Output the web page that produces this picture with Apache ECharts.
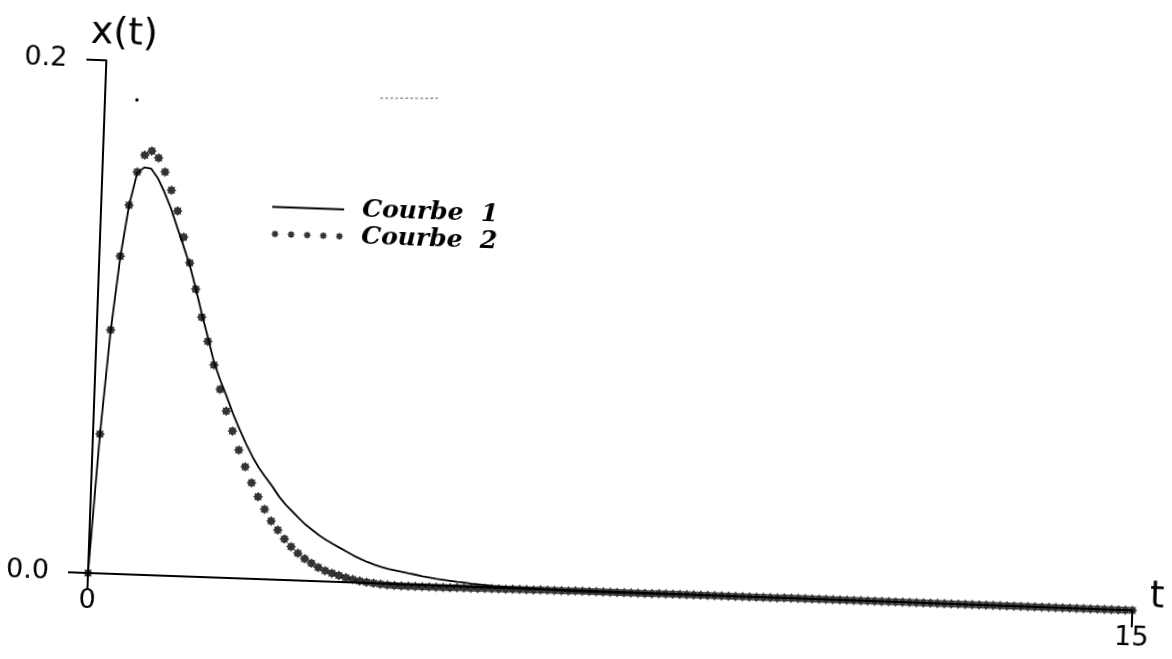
<!DOCTYPE html>
<html>
<head>
<meta charset="utf-8">
<script src="https://cdn.jsdelivr.net/npm/echarts@6/dist/echarts.min.js"></script>
<style>
  html, body { margin: 0; padding: 0; background: #ffffff; overflow: hidden; width: 1172px; height: 659px; }
  #chart { position: absolute; left: 0; top: 0; width: 1172px; height: 659px;
           transform-origin: 88px 573px; transform: rotate(2.05deg); }
</style>
</head>
<body>
<div id="chart"></div>
<script>
// ---- data ----
const seriesNames = ['Courbe 1', 'Courbe 2'];
const xTickLabels = ['0', '15'];
const yTickLabels = ['0.0', '0.2'];

// Courbe 1 (solid line): sample times and values
const solidT = [
  0, 0.1, 0.2, 0.3, 0.4, 0.5, 0.6, 0.7, 0.8, 0.9,
  1.0, 1.1, 1.2, 1.3, 1.4, 1.5, 1.6, 1.7, 1.8, 1.9,
  2.0, 2.1, 2.2, 2.3, 2.4, 2.5, 2.6, 2.7, 2.8, 2.9,
  3.0, 3.1, 3.2, 3.3, 3.4, 3.5, 3.6, 3.7, 3.8, 3.9,
  4.0, 4.1, 4.2, 4.3, 4.4, 4.5, 4.6, 4.7, 4.8, 4.9,
  5.0, 5.1, 5.2, 5.3, 5.4, 5.5, 5.6, 5.7, 5.8, 5.9,
  6.0, 6.5, 7, 8, 9, 10, 11, 12, 13, 14, 15
];
const solidX = [
  0, 0.0540, 0.0945, 0.1232, 0.1437, 0.1565, 0.1588, 0.1584, 0.1548, 0.1495,
  0.1434, 0.1361, 0.1289, 0.1215, 0.1124, 0.1025, 0.0934, 0.0838, 0.0769, 0.0706,
  0.0640, 0.0581, 0.0526, 0.0476, 0.0433, 0.0397, 0.0363, 0.0325, 0.0294, 0.0268,
  0.0242, 0.0218, 0.0198, 0.0178, 0.0162, 0.0147, 0.0133, 0.0119, 0.0105, 0.0093,
  0.0082, 0.0073, 0.0065, 0.0058, 0.0053, 0.0048, 0.0043, 0.0039, 0.0034, 0.0030,
  0.0026, 0.0023, 0.0020, 0.0017, 0.0015, 0.0012, 0.0010, 0.0008, 0.0006, 0.0005,
  0.0004, 0.0001, -0.0003, -0.0002, -0.0001, 0, 0, 0, 0, 0, 0
];

// Courbe 2 (stars): sample times and values
const starT = [
  0, 0.1, 0.2, 0.3, 0.4, 0.5, 0.6, 0.7, 0.8, 0.9,
  1.0, 1.1, 1.2, 1.3, 1.4, 1.5, 1.6, 1.7, 1.8, 1.9,
  2.0, 2.1, 2.2, 2.3, 2.4, 2.5, 2.6, 2.7, 2.8, 2.9,
  3.0, 3.1, 3.2, 3.3, 3.4, 3.5, 3.6, 3.7, 3.8, 3.9,
  4.0, 4.1, 4.2, 4.3, 4.4, 4.5, 4.6, 4.7, 4.8, 4.9,
  5.0, 5.1, 5.2, 5.3, 5.4, 5.5, 5.6, 5.7, 5.8, 5.9,
  6.0, 6.1, 6.2, 6.3, 6.4, 6.5, 6.6, 6.7, 6.8, 6.9,
  7.0, 7.1, 7.2, 7.3, 7.4, 7.5, 7.6, 7.7, 7.8, 7.9,
  8.0, 8.1, 8.2, 8.3, 8.4, 8.5, 8.6, 8.7, 8.8, 8.9,
  9.0, 9.1, 9.2, 9.3, 9.4, 9.5, 9.6, 9.7, 9.8, 9.9,
  10.0, 10.1, 10.2, 10.3, 10.4, 10.5, 10.6, 10.7, 10.8, 10.9,
  11.0, 11.1, 11.2, 11.3, 11.4, 11.5, 11.6, 11.7, 11.8, 11.9,
  12.0, 12.1, 12.2, 12.3, 12.4, 12.5, 12.6, 12.7, 12.8, 12.9,
  13.0, 13.1, 13.2, 13.3, 13.4, 13.5, 13.6, 13.7, 13.8, 13.9,
  14.0, 14.1, 14.2, 14.3, 14.4, 14.5, 14.6, 14.7, 14.8, 14.9,
  15.0
];
const starX = [
  0, 0.0543, 0.0950, 0.1239, 0.1439, 0.1569, 0.1636, 0.1653, 0.1627, 0.1573,
  0.1503, 0.1423, 0.1322, 0.1222, 0.1121, 0.1013, 0.0919, 0.0828, 0.0734, 0.0650,
  0.0573, 0.0500, 0.0436, 0.0374, 0.0321, 0.0273, 0.0228, 0.0194, 0.0160, 0.0131,
  0.0106, 0.0086, 0.0069, 0.0054, 0.0042, 0.0033, 0.0025, 0.0018, 0.0012, 0.0007,
  0.0003, 0.0000, -0.0003, -0.0005, -0.0006, -0.0007, -0.0007, -0.0007, -0.0007, -0.0007,
  -0.0007, -0.0007, -0.0007, -0.0006, -0.0006, -0.0006, -0.0006, -0.0005, -0.0005, -0.0005,
  -0.0005, -0.0004, -0.0004, -0.0004, -0.0004, -0.0003, -0.0003, -0.0003, -0.0003, -0.0003,
  -0.0002, -0.0002, -0.0002, -0.0002, -0.0002, -0.0002, -0.0002, -0.0002, -0.0002, -0.0002,
  -0.0002, -0.0002, -0.0001, -0.0001, -0.0001, -0.0001, -0.0001, -0.0001, -0.0001, -0.0001,
  -0.0001, -0.0001, -0.0001, -0.0001, -0.0001, -0.0001, -0.0001, -0.0001, -0.0001, -0.0001,
  0, 0, 0, 0, 0, 0, 0, 0, 0, 0,
  0, 0, 0, 0, 0, 0, 0, 0, 0, 0,
  0, 0, 0, 0, 0, 0, 0, 0, 0, 0,
  0, 0, 0, 0, 0, 0, 0, 0, 0, 0,
  0, 0, 0, 0, 0, 0, 0, 0, 0, 0,
  0
];

// ---- shapes ----
function starPath(cx, cy, R, r) {
  let d = '';
  for (let i = 0; i < 16; i++) {
    const a = Math.PI * i / 8;
    const rad = (i % 2) ? r : R;
    d += (i ? 'L' : 'M') + (cx + rad * Math.sin(a)).toFixed(2) + ',' + (cy - rad * Math.cos(a)).toFixed(2);
  }
  return d + 'Z';
}
const starSymbol = 'path://' + starPath(0, 0, 10, 7);
let rowPath = '';
for (let i = 0; i < 5; i++) rowPath += starPath(4 + i * 17, 4, 4, 2.8);
const starRowIcon = 'path://' + rowPath;
const lineIcon = 'path://M0,0H76V2H0Z';

const solidData = solidT.map((t, i) => [t, solidX[i]]);
const starData = starT.map((t, i) => [t, starX[i]]);

const chart = echarts.init(document.getElementById('chart'), null, { renderer: 'canvas' });
const tickFont = { fontFamily: 'DejaVu Sans', fontSize: 27, color: '#000' };

chart.setOption({
  animation: false,
  backgroundColor: 'transparent',
  grid: { left: 88, right: 39, top: 60, bottom: 86, containLabel: false },
  legend: {
    orient: 'vertical',
    left: 259,
    top: 187,
    padding: 0,
    itemGap: 0,
    itemWidth: 72,
    itemHeight: 8,
    symbolKeepAspect: true,
    selectedMode: false,
    data: [
      { name: seriesNames[0], icon: lineIcon },
      { name: seriesNames[1], icon: starRowIcon }
    ],
    formatter: (name) => name.replace(' ', '  '),
    textStyle: {
      fontFamily: 'DejaVu Serif', fontStyle: 'italic', fontWeight: 'bold',
      fontSize: 25, lineHeight: 27, color: '#000', padding: [0, 0, 0, 13]
    }
  },
  xAxis: {
    type: 'value', min: 0, max: 15, interval: 15,
    name: 't', nameLocation: 'end', nameGap: 17, nameMoveOverlap: false,
    nameTextStyle: { fontFamily: 'DejaVu Sans', fontSize: 37, lineHeight: 28, color: '#000',
                     verticalAlign: 'bottom' },
    axisLine: { show: true, onZero: false, lineStyle: { color: '#000', width: 2 } },
    axisTick: { show: true, length: 17, lineStyle: { color: '#000', width: 2 } },
    axisLabel: Object.assign({ margin: 14, formatter: (v) => xTickLabels[v === 0 ? 0 : 1] }, tickFont),
    splitLine: { show: false }
  },
  yAxis: {
    type: 'value', min: 0, max: 0.2, interval: 0.2,
    name: 'x(t)', nameLocation: 'end', nameGap: 27, nameMoveOverlap: false,
    nameTextStyle: { fontFamily: 'DejaVu Sans', fontSize: 38, lineHeight: 42, color: '#000',
                     verticalAlign: 'middle', align: 'center', padding: [0, 0, 0, 34] },
    axisLine: { show: true, onZero: false, lineStyle: { color: '#000', width: 2 } },
    axisTick: { show: true, length: 20, lineStyle: { color: '#000', width: 2 } },
    axisLabel: Object.assign({ margin: 39, formatter: (v) => yTickLabels[v === 0 ? 0 : 1] }, tickFont),
    splitLine: { show: false }
  },
  graphic: [
    { type: 'circle', shape: { cx: 120, cy: 98.5, r: 1.7 }, style: { fill: '#000' }, silent: true },
    { type: 'line', shape: { x1: 363, y1: 88, x2: 423, y2: 86 },
      style: { stroke: '#9a9a9a', lineWidth: 1.5, lineDash: [3, 2] }, silent: true }
  ],
  series: [
    {
      name: seriesNames[1], type: 'scatter', data: starData,
      symbol: starSymbol, symbolSize: 10, clip: false,
      itemStyle: { color: '#000' }, z: 2
    },
    {
      name: seriesNames[0], type: 'line', data: solidData,
      symbol: 'none', showSymbol: false, clip: false, smooth: false,
      lineStyle: { color: '#000', width: 1.8 }, itemStyle: { color: '#000' }, z: 3
    }
  ]
});
</script>
</body>
</html>
